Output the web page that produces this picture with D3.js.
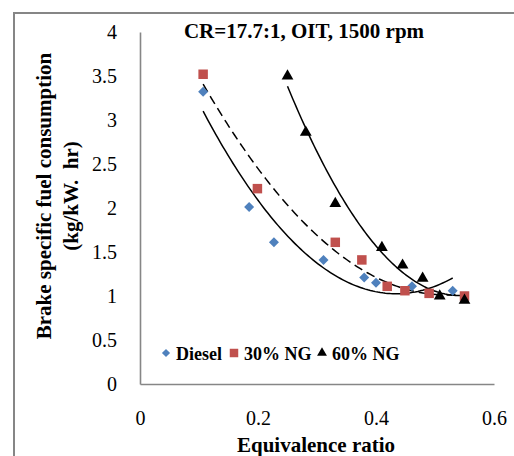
<!DOCTYPE html>
<html>
<head>
<meta charset="utf-8">
<script src="https://cdn.jsdelivr.net/npm/d3@7"></script>
<style>
  html, body { margin: 0; padding: 0; background: #fff; }
  svg { display: block; }
  text { font-family: "Liberation Serif", "Times New Roman", serif; fill: #000; }
</style>
</head>
<body>
<svg id="chart" width="514" height="456"></svg>
<script>
// ---- data ----
const seriesNames = ["Diesel", "30% NG", "60% NG"];
const dieselX = [0.107, 0.185, 0.227, 0.311, 0.380, 0.400, 0.461, 0.530];
const dieselY = [3.32, 2.01, 1.61, 1.41, 1.21, 1.15, 1.11, 1.06];
const ng30X = [0.107, 0.199, 0.331, 0.376, 0.419, 0.449, 0.490, 0.550];
const ng30Y = [3.52, 2.22, 1.61, 1.41, 1.11, 1.06, 1.03, 1.00];
const ng60X = [0.250, 0.281, 0.331, 0.410, 0.445, 0.479, 0.508, 0.550];
const ng60Y = [3.50, 2.86, 2.05, 1.55, 1.35, 1.20, 1.00, 0.95];
const xTicks = [0, 0.2, 0.4, 0.6];
const yTicks = [0, 0.5, 1, 1.5, 2, 2.5, 3, 3.5, 4];
const titleText = "CR=17.7:1, OIT, 1500 rpm";
const xTitle = "Equivalence ratio";
const yTitle1 = "Brake specific fuel consumption";
const yTitle2 = "(kg/kW.  hr)";

const svg = d3.select("#chart");
const axisColor = "#868686";

// outer border (clipped by window on right/bottom)
svg.append("rect").attr("x", 14).attr("y", 13).attr("width", 520).attr("height", 460)
  .attr("fill", "none").attr("stroke", axisColor).attr("stroke-width", 2);

const x = d3.scaleLinear().domain([0, 0.6]).range([140, 494]);
const y = d3.scaleLinear().domain([0, 4]).range([384, 32]);

// axes
const gx = svg.append("g").attr("transform", `translate(0,${y(0)})`)
  .call(d3.axisBottom(x).tickValues(xTicks).tickSize(0).tickPadding(27).tickFormat(d3.format("")));
const gy = svg.append("g").attr("transform", `translate(${x(0)},0)`)
  .call(d3.axisLeft(y).tickValues(yTicks).tickSize(0).tickPadding(23).tickFormat(d3.format("")));
[gx, gy].forEach(g => {
  g.select(".domain").attr("stroke", axisColor).attr("stroke-width", 1.6);
  g.selectAll("text").attr("font-size", 20).attr("font-family", "Liberation Serif, serif").attr("fill", "#000");
});

// fit 2nd order polynomial (trendline) by least squares
function polyFit2(xs, ys) {
  let n = xs.length, s = [0,0,0,0,0], t = [0,0,0];
  for (let i = 0; i < n; i++) {
    const xv = xs[i], yv = ys[i];
    for (let k = 0; k <= 4; k++) s[k] += Math.pow(xv, k);
    for (let k = 0; k <= 2; k++) t[k] += yv * Math.pow(xv, k);
  }
  const A = [[s[0], s[1], s[2], t[0]], [s[1], s[2], s[3], t[1]], [s[2], s[3], s[4], t[2]]];
  for (let i = 0; i < 3; i++) {
    let p = i;
    for (let r = i + 1; r < 3; r++) if (Math.abs(A[r][i]) > Math.abs(A[p][i])) p = r;
    [A[i], A[p]] = [A[p], A[i]];
    for (let r = 0; r < 3; r++) {
      if (r === i) continue;
      const f = A[r][i] / A[i][i];
      for (let c = i; c < 4; c++) A[r][c] -= f * A[i][c];
    }
  }
  return [A[0][3] / A[0][0], A[1][3] / A[1][1], A[2][3] / A[2][2]];
}

const series = [
  { name: seriesNames[0], xs: dieselX, ys: dieselY, color: "#4F81BD", shape: d3.symbolSquare, rot: 45, dash: null, size: 50, lsize: 34 },
  { name: seriesNames[1], xs: ng30X, ys: ng30Y, color: "#C0504D", shape: d3.symbolSquare, rot: 0, dash: "9,5", size: 90, lsize: 72 },
  { name: seriesNames[2], xs: ng60X, ys: ng60Y, color: "#000000", shape: d3.symbolTriangle, rot: 0, dash: null, size: 60, lsize: 42 }
];

const line = d3.line().x(d => x(d[0])).y(d => y(d[1]));

// trendlines
series.forEach(s => {
  const c = polyFit2(s.xs, s.ys);
  const x0 = d3.min(s.xs), x1 = d3.max(s.xs);
  const pts = d3.range(0, 101).map(i => {
    const xv = x0 + (x1 - x0) * i / 100;
    return [xv, c[0] + c[1] * xv + c[2] * xv * xv];
  });
  svg.append("path").attr("d", line(pts)).attr("fill", "none")
    .attr("stroke", "#000").attr("stroke-width", 1.5)
    .attr("stroke-dasharray", s.dash);
});

// markers
series.forEach(s => {
  const sym = d3.symbol().type(s.shape).size(s.size);
  svg.append("g").selectAll("path").data(s.xs.map((v, i) => [v, s.ys[i]])).join("path")
    .attr("d", sym)
    .attr("transform", d => `translate(${x(d[0])},${y(d[1])}) rotate(${s.rot})`)
    .attr("fill", s.color);
});

// title
svg.append("text").attr("x", 304).attr("y", 38).attr("text-anchor", "middle")
  .attr("font-size", 21).attr("font-weight", "bold").text(titleText);

// axis titles
svg.append("text").attr("x", 316).attr("y", 452).attr("text-anchor", "middle")
  .attr("font-size", 21).attr("font-weight", "bold").text(xTitle);
const yt = svg.append("text").attr("transform", "translate(0,196) rotate(-90)")
  .attr("text-anchor", "middle").attr("font-size", 21).attr("font-weight", "bold")
  .attr("xml:space", "preserve").style("white-space", "pre");
yt.append("tspan").attr("x", 0).attr("y", 51).text(yTitle1);
yt.append("tspan").attr("x", 0).attr("y", 78).text(yTitle2);

// legend
const legendMarkerX = [166, 234, 322];
const legendY = 353;
series.forEach((s, i) => {
  svg.append("path").attr("d", d3.symbol().type(s.shape).size(s.lsize)())
    .attr("transform", `translate(${legendMarkerX[i]},${legendY}) rotate(${s.rot})`).attr("fill", s.color);
  svg.append("text").attr("x", legendMarkerX[i] + 10).attr("y", legendY + 7)
    .attr("font-size", 18).attr("font-weight", "bold").text(s.name);
});
</script>
</body>
</html>
